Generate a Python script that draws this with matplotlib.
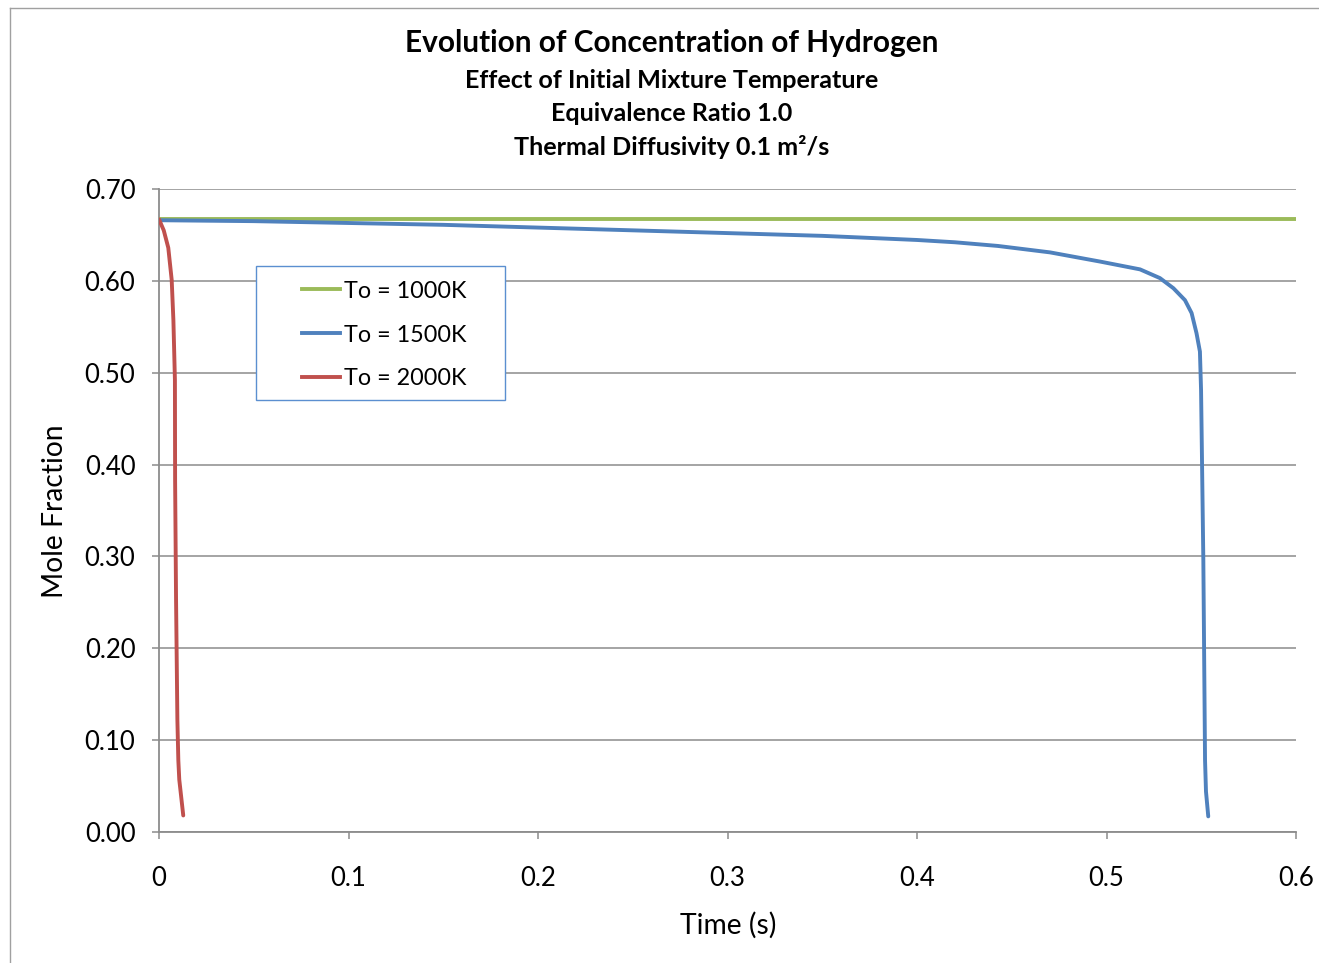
import matplotlib
matplotlib.use("Agg")
import matplotlib.pyplot as plt
from matplotlib.lines import Line2D
from matplotlib.patches import Rectangle

plt.rcParams['font.family'] = ['Lato', 'DejaVu Sans']

# Data
t_1000 = [0.0, 0.6]
x_1000 = [0.667, 0.667]

t_1500 = [0.0, 0.05, 0.10, 0.15, 0.20, 0.25, 0.30, 0.35, 0.40, 0.42, 0.4427, 0.4702,
          0.4966, 0.5177, 0.5282, 0.5353, 0.5414, 0.5449, 0.5475, 0.5493, 0.5499,
          0.5502, 0.5511, 0.5520, 0.5525, 0.5537]
x_1500 = [0.666, 0.665, 0.663, 0.661, 0.658, 0.655, 0.652, 0.649, 0.6445, 0.642,
          0.638, 0.631, 0.621, 0.6125, 0.603, 0.592, 0.579, 0.565, 0.543, 0.523,
          0.481, 0.435, 0.296, 0.078, 0.044, 0.017]

t_2000 = [0.0, 0.0025, 0.0049, 0.0067, 0.0076, 0.0084, 0.0085, 0.0090, 0.0097,
          0.0102, 0.0107, 0.0114, 0.0128]
x_2000 = [0.667, 0.655, 0.636, 0.601, 0.557, 0.492, 0.383, 0.253, 0.122,
          0.078, 0.057, 0.044, 0.018]

labels = ["To = 1000K", "To = 1500K", "To = 2000K"]
colors = ["#9BBB59", "#4F81BD", "#C0504D"]

title_lines = ["Evolution of Concentration of Hydrogen",
               "Effect of Initial Mixture Temperature",
               "Equivalence Ratio 1.0",
               "Thermal Diffusivity 0.1 m²/s"]
xticks = [0, 0.1, 0.2, 0.3, 0.4, 0.5, 0.6]
xtick_labels = ["0", "0.1", "0.2", "0.3", "0.4", "0.5", "0.6"]
yticks = [0.0, 0.1, 0.2, 0.3, 0.4, 0.5, 0.6, 0.7]
ytick_labels = ["0.00", "0.10", "0.20", "0.30", "0.40", "0.50", "0.60", "0.70"]

W, H = 1319, 963
fig = plt.figure(figsize=(W / 100, H / 100), dpi=100)
ax = fig.add_axes([159 / W, 1 - 832 / H, (1296 - 159) / W, (832 - 189) / H])

lw = 2.8
ax.plot(t_1000, x_1000, color=colors[0], lw=lw, solid_capstyle='round', zorder=3)
ax.plot(t_1500, x_1500, color=colors[1], lw=lw, solid_capstyle='round',
        solid_joinstyle='round', zorder=4)
ax.plot(t_2000, x_2000, color=colors[2], lw=lw, solid_capstyle='round',
        solid_joinstyle='round', zorder=5)

ax.set_xlim(0, 0.6)
ax.set_ylim(0, 0.7)
ax.set_xticks(xticks)
ax.set_xticklabels(xtick_labels)
ax.set_yticks(yticks)
ax.set_yticklabels(ytick_labels)

gc = "#8C8C8C"
ax.grid(axis='y', color=gc, lw=1.1)
ax.set_axisbelow(True)
for s in ['top', 'right']:
    ax.spines[s].set_visible(False)
for s in ['left', 'bottom']:
    ax.spines[s].set_color(gc)
    ax.spines[s].set_linewidth(1.3)
ax.tick_params(axis='x', direction='out', length=5, width=1.1, color=gc,
               labelsize=18.5, pad=19.5)
ax.tick_params(axis='y', direction='out', length=5, width=1.1, color=gc,
               labelsize=18.5, pad=12)

fig.text(728 / W, 1 - 925 / H, "Time (s)", ha='center', va='center', fontsize=20.3)
fig.text(55 / W, 1 - 511 / H, "Mole Fraction", ha='center', va='center',
         rotation=90, fontsize=20.3)

# Titles
fig.text(672 / W, 1 - 43 / H, title_lines[0], ha='center', va='center',
         fontsize=21.4, fontweight='bold')
for ln, yp in zip(title_lines[1:], [80, 113, 147]):
    fig.text(672 / W, 1 - yp / H, ln, ha='center', va='center',
             fontsize=18.1, fontweight='bold')

# Legend
handles = [Line2D([], [], color=c, lw=lw) for c in colors]
leg = fig.legend(handles, labels, loc='upper left',
                 bbox_to_anchor=(290 / W, 1 - 269 / H),
                 frameon=False, fontsize=16.8, handlelength=1.63,
                 handletextpad=0.2, labelspacing=0.98, borderpad=0)
fig.patches.append(Rectangle((256 / W, 1 - 400 / H), (505 - 256) / W, (400 - 266) / H,
                             transform=fig.transFigure, facecolor='white',
                             edgecolor='#5B8FD0', lw=1.0, zorder=2))
leg.set_zorder(6)

# Outer chart border (top and left)
fig.add_artist(Line2D([10 / W, 1.0], [1 - 8 / H, 1 - 8 / H], color='#A0A0A0',
                      lw=1.0, transform=fig.transFigure))
fig.add_artist(Line2D([10 / W, 10 / W], [0, 1 - 8 / H], color='#A0A0A0',
                      lw=1.0, transform=fig.transFigure))

fig.savefig("out.png", dpi=100)
